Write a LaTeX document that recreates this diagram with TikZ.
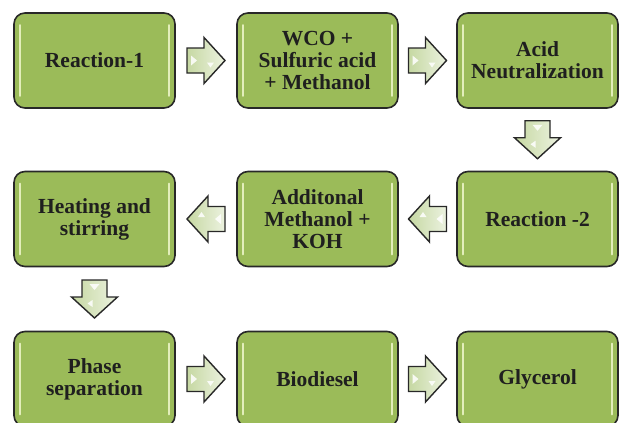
\documentclass[tikz,border=0pt]{standalone}
\usepackage{fontspec}
\newfontfamily\boxfont{Liberation Serif Bold}
\usetikzlibrary{calc}
\definecolor{boxgreen}{RGB}{155,187,89}
\definecolor{edge}{RGB}{40,40,40}
\definecolor{arrlight}{RGB}{236,242,224}
\definecolor{arrdark}{RGB}{198,216,162}
\definecolor{hlcol}{RGB}{240,248,205}
\tikzset{
  stepbox/.style={draw=edge, line width=1.6pt, rounded corners=11pt, fill=boxgreen,
    minimum width=161pt, minimum height=95pt, align=center, inner sep=2pt,
    font=\boxfont\fontsize{21.5}{22}\selectfont, text={black!88}},
  hl/.style={draw=hlcol, line width=2.4pt, line cap=round, opacity=0.85},
  pics/blockarrow/.style={code={
    \draw[draw=edge, line width=1.4pt, line join=miter, left color=arrdark, right color=arrlight]
      (-19,-12.5) -- (-2,-12.5) -- (-2,-23) -- (19,0) -- (-2,23) -- (-2,12.5) -- (-19,12.5) -- cycle;
    \fill[white, opacity=0.85] (-15,-5) -- (-9,0) -- (-15,5) -- cycle;
    \fill[white, opacity=0.85] (1,2) -- (8,2) -- (4.5,7) -- cycle;
  }}
}
\begin{document}
\begin{tikzpicture}[x=1pt, y=-1pt]
\useasboundingbox (0,0) rectangle (619,423);
\clip (0,0) rectangle (619,423);
\fill[white] (0,0) rectangle (619,423);

\node[stepbox] (b1) at (94.5,60.5) {Reaction-1};
\node[stepbox] (b2) at (317.5,60.5) {WCO +\\Sulfuric acid\\+ Methanol};
\node[stepbox] (b3) at (537.5,60.5) {Acid\\Neutralization};
\node[stepbox] (b6) at (537.5,219) {Reaction -2};
\node[stepbox] (b5) at (317.5,219) {Additonal\\Methanol +\\KOH};
\node[stepbox] (b4) at (94.5,219) {Heating and\\stirring};
\node[stepbox] (b7) at (94.5,379) {Phase\\separation};
\node[stepbox] (b8) at (317.5,379) {Biodiesel};
\node[stepbox] (b9) at (537.5,379) {Glycerol};

\foreach \n in {b1,b2,b3,b4,b5,b6,b7,b8,b9}{
  \draw[hl] ($(\n.north west)+(7,13)$) -- ($(\n.south west)+(7,-13)$);
  \draw[hl] ($(\n.north east)+(-7,13)$) -- ($(\n.south east)+(-7,-13)$);
}

\path (b1.east) -- (b2.west) coordinate[midway] (a12);
\path (b2.east) -- (b3.west) coordinate[midway] (a23);
\path (b3.south) -- (b6.north) coordinate[midway] (a36);
\path (b6.west) -- (b5.east) coordinate[midway] (a65);
\path (b5.west) -- (b4.east) coordinate[midway] (a54);
\path (b4.south) -- (b7.north) coordinate[midway] (a47);
\path (b7.east) -- (b8.west) coordinate[midway] (a78);
\path (b8.east) -- (b9.west) coordinate[midway] (a89);

\pic at (a12) {blockarrow};
\pic at (a23) {blockarrow};
\pic[rotate=-90] at (a36) {blockarrow};
\pic[rotate=180] at (a65) {blockarrow};
\pic[rotate=180] at (a54) {blockarrow};
\pic[rotate=-90] at (a47) {blockarrow};
\pic at (a78) {blockarrow};
\pic at (a89) {blockarrow};
\end{tikzpicture}
\end{document}
